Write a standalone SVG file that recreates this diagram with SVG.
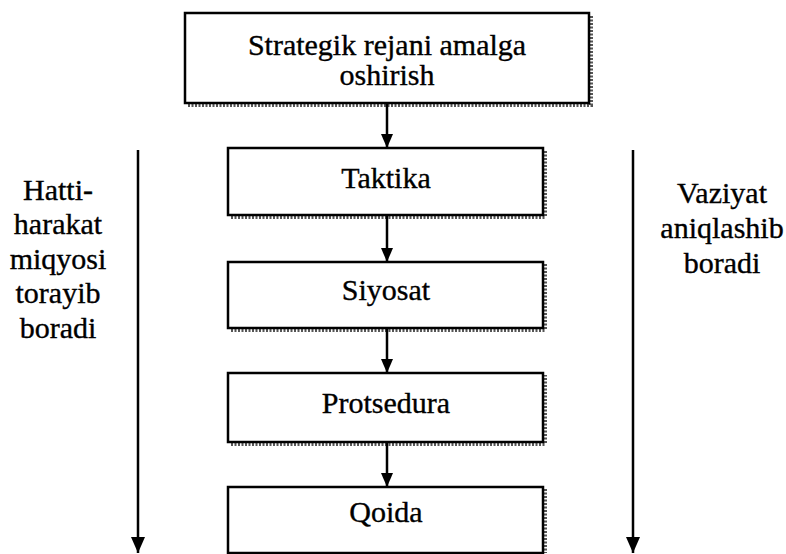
<svg xmlns="http://www.w3.org/2000/svg" width="786" height="554" viewBox="0 0 786 554">
  <defs>
    <style>
      .box { fill: #ffffff; stroke: #000000; stroke-width: 2.5; }
      .shadow { fill: none; stroke: #555555; stroke-width: 4; stroke-dasharray: 2 1.5; }
      .label { font-family: 'Liberation Serif', 'DejaVu Serif', 'Times New Roman', serif; font-size: 30px; fill: #000000; stroke: #000000; stroke-width: 0.35; text-anchor: middle; }
      .link { stroke: #000000; stroke-width: 2.5; fill: none; }
    </style>
    <marker id="arrow" viewBox="0 0 14 12" refX="14" refY="6" markerWidth="14" markerHeight="12" markerUnits="userSpaceOnUse" orient="auto">
      <path d="M0,0 L14,6 L0,12 Z" fill="#000000"/>
    </marker>
    <marker id="arrowLong" viewBox="0 0 16 14" refX="16" refY="7" markerWidth="16" markerHeight="14" markerUnits="userSpaceOnUse" orient="auto">
      <path d="M0,0 L16,7 L0,14 Z" fill="#000000"/>
    </marker>
  </defs>
  <rect width="786" height="554" fill="#ffffff"/>

  <!-- chain of steps -->
  <g id="node-strategy">
    <path class="shadow" d="M188,105 H591 V15"/>
    <rect class="box" x="185" y="13" width="404" height="90"/>
    <text class="label" x="387" y="55">Strategik rejani amalga</text>
    <text class="label" x="387" y="85">oshirish</text>
  </g>
  <g id="node-tactics">
    <path class="shadow" d="M231,217 H545 V150"/>
    <rect class="box" x="228" y="148" width="315" height="67"/>
    <text class="label" x="386" y="188">Taktika</text>
  </g>
  <g id="node-policy">
    <path class="shadow" d="M231,330 H545 V264"/>
    <rect class="box" x="228" y="262" width="315" height="66"/>
    <text class="label" x="386" y="300">Siyosat</text>
  </g>
  <g id="node-procedure">
    <path class="shadow" d="M231,444 H545 V375"/>
    <rect class="box" x="228" y="373" width="315" height="69"/>
    <text class="label" x="386" y="413">Protsedura</text>
  </g>
  <g id="node-rule">
    <path class="shadow" d="M545,489 V553"/>
    <rect class="box" x="228" y="487" width="315" height="66"/>
    <text class="label" x="386" y="522">Qoida</text>
  </g>

  <!-- side captions -->
  <g id="caption-left">
    <text class="label" x="58" y="200">Hatti-</text>
    <text class="label" x="58" y="234">harakat</text>
    <text class="label" x="58" y="269">miqyosi</text>
    <text class="label" x="58" y="303">torayib</text>
    <text class="label" x="58" y="338">boradi</text>
  </g>
  <g id="caption-right">
    <text class="label" x="722" y="203">Vaziyat</text>
    <text class="label" x="722" y="238">aniqlashib</text>
    <text class="label" x="722" y="273">boradi</text>
  </g>

  <!-- connectors -->
  <g id="connectors">
    <line class="link" x1="387" y1="103" x2="387" y2="148" marker-end="url(#arrow)"/>
    <line class="link" x1="387" y1="215" x2="387" y2="262" marker-end="url(#arrow)"/>
    <line class="link" x1="387" y1="328" x2="387" y2="373" marker-end="url(#arrow)"/>
    <line class="link" x1="387" y1="442" x2="387" y2="487" marker-end="url(#arrow)"/>
    <line class="link" x1="138" y1="150" x2="138" y2="553" marker-end="url(#arrowLong)"/>
    <line class="link" x1="633" y1="150" x2="633" y2="553" marker-end="url(#arrowLong)"/>
  </g>
</svg>
